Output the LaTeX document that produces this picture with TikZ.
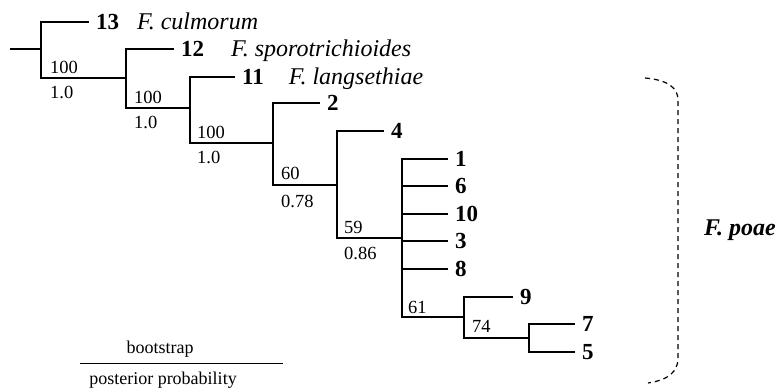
\documentclass[tikz,border=0pt]{standalone}
\usepackage{fontspec}
\setmainfont{Liberation Serif}
\begin{document}
\begin{tikzpicture}[x=1pt,y=-1pt,
  br/.style={line width=1.7pt},
  leaf/.style={anchor=west, inner xsep=7pt, inner ysep=0pt, text height=15pt, text depth=0pt,
    font=\fontsize{23}{23}\selectfont\bfseries},
  supp/.style={anchor=base west, inner sep=0pt, font=\fontsize{18.5}{18.5}\selectfont},
  legend/.style={inner sep=0pt, anchor=base, font=\fontsize{18}{18}\selectfont},
  brack/.style={line width=1.2pt, dash pattern=on 5pt off 4pt},
  clade/.style={anchor=base west, inner sep=0pt, font=\fontsize{24}{24}\selectfont\bfseries\itshape}]
\useasboundingbox (0,0) rectangle (779,388);
% internal nodes
\coordinate (R) at (10,49);
\coordinate (A) at (41,49);
\coordinate (B) at (126,78);
\coordinate (C) at (190,108);
\coordinate (D) at (273,143);
\coordinate (E) at (337,185);
\coordinate (F) at (402,238);
\coordinate (G) at (464,317);
\coordinate (H) at (529,338);
% leaves
\node[leaf] (n13) at (89,22) {13\hspace{18pt}\mdseries\itshape\fontsize{24}{24}\selectfont F. culmorum};
\node[leaf] (n12) at (174,49) {12\hspace{27pt}\mdseries\itshape\fontsize{24}{24}\selectfont F. sporotrichioides};
\node[leaf] (n11) at (235,77) {11\hspace{25pt}\mdseries\itshape\fontsize{24}{24}\selectfont F. langsethiae};
\node[leaf] (n2) at (320,103) {2};
\node[leaf] (n4) at (384,131) {4};
\node[leaf] (n1) at (448,159) {1};
\node[leaf] (n6) at (448,186) {6};
\node[leaf] (n10) at (448,214) {10};
\node[leaf] (n3) at (448,241) {3};
\node[leaf] (n8) at (448,269) {8};
\node[leaf] (n9) at (513,297) {9};
\node[leaf] (n7) at (575,324) {7};
\node[leaf] (n5) at (575,352) {5};
% branches
\draw[br] (R) -- (A);
\draw[br] (A) |- (n13.west);
\draw[br] (A) |- (B);
\draw[br] (B) |- (n12.west);
\draw[br] (B) |- (C);
\draw[br] (C) |- (n11.west);
\draw[br] (C) |- (D);
\draw[br] (D) |- (n2.west);
\draw[br] (D) |- (E);
\draw[br] (E) |- (n4.west);
\draw[br] (E) |- (F);
\draw[br] (F) |- (n1.west);
\draw[br] (F) |- (n6.west);
\draw[br] (F) |- (n10.west);
\draw[br] (F) |- (n3.west);
\draw[br] (F) |- (n8.west);
\draw[br] (F) |- (G);
\draw[br] (G) |- (n9.west);
\draw[br] (G) |- (H);
\draw[br] (H) |- (n7.west);
\draw[br] (H) |- (n5.west);
% support values
\node[supp] (sA1) at (50,73) {100};
\node[supp] (sA2) at (50,98) {1.0};
\node[supp] (sB1) at (134,103) {100};
\node[supp] (sB2) at (134,128) {1.0};
\node[supp] (sC1) at (197,138) {100};
\node[supp] (sC2) at (197,163) {1.0};
\node[supp] (sD1) at (281,179) {60};
\node[supp] (sD2) at (281,207) {0.78};
\node[supp] (sE1) at (344,233) {59};
\node[supp] (sE2) at (344,259) {0.86};
\node[supp] (sF1) at (408,313) {61};
\node[supp] (sG1) at (472,332) {74};
% clade bracket
\draw[brack] (645,78) .. controls (668,80) and (678,88) .. (678,100) -- (678,358)
  .. controls (678,372) and (668,380) .. (648,383);
\node[clade] (poae) at (704,235) {F. poae};
% legend
\node[legend] (boot) at (160,353) {bootstrap};
\coordinate (L1) at (80,363);
\coordinate (L2) at (283,363);
\draw[line width=1pt] (L1) -- (L2);
\node[legend] (post) at (163,384) {posterior probability};
\end{tikzpicture}
\end{document}
